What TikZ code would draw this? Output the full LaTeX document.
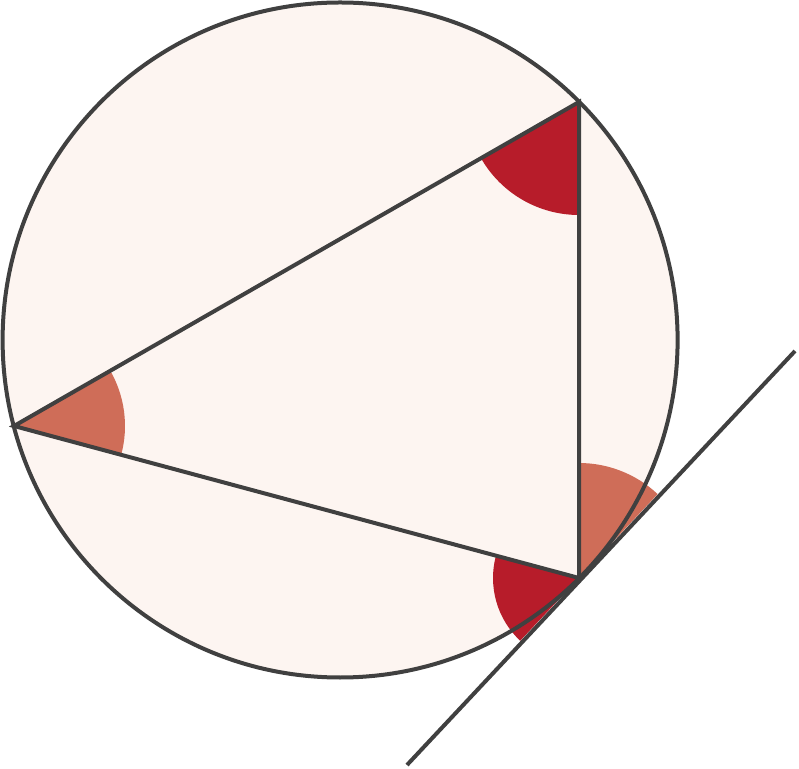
\documentclass[tikz,border=0pt]{standalone}
\usetikzlibrary{calc}
\definecolor{bgfill}{HTML}{FDF5F1}
\definecolor{coral}{HTML}{CF6D58}
\definecolor{deepred}{HTML}{B71C2A}
\definecolor{ink}{HTML}{404040}
\tikzset{
  outline/.style={draw=ink, line width=4pt},
  sectorA/.style={fill=coral},
  sectorB/.style={fill=deepred}
}
\begin{document}
\begin{tikzpicture}[x=1pt,y=1pt]
\useasboundingbox (0,0) rectangle (799,768);
\coordinate (O) at (340.1,428);
\coordinate (A) at (579,666);
\coordinate (B) at (14,342);
\coordinate (C) at (579,190);
\coordinate (T1) at (407,3);
\coordinate (T2) at (795,417);
% circle fill
\fill[bgfill] (O) circle[radius=337.5];
% angle sectors
\fill[sectorA] (B) -- ++(-15.06:111) arc[start angle=-15.06, end angle=29.84, radius=111] -- cycle;
\fill[sectorB] (A) -- ++(209.84:113) arc[start angle=209.84, end angle=270, radius=113] -- cycle;
\fill[sectorA] (C) -- ++(46.86:115) arc[start angle=46.86, end angle=90, radius=115] -- cycle;
\fill[sectorB] (C) -- ++(165:86) arc[start angle=165, end angle=226.86, radius=86] -- cycle;
% outlines
\draw[outline] (O) circle[radius=337.5];
\draw[outline] (A) -- (B) -- (C) -- cycle;
\draw[outline] (T1) -- (T2);
\end{tikzpicture}
\end{document}
